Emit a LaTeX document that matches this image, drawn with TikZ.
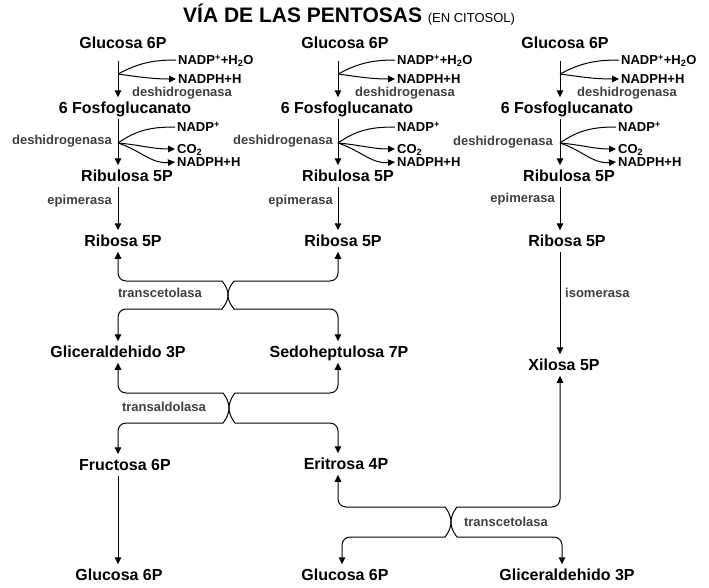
\documentclass[tikz,border=0pt]{standalone}
\usepackage{fontspec}
\setmainfont{Liberation Sans}
\usepackage{xcolor}
\definecolor{enzgray}{HTML}{404040}
\usetikzlibrary{arrows.meta,calc}

\begin{document}
\begin{tikzpicture}[
  x=1pt,y=1pt,
  met/.style={inner sep=0pt,outer ysep=5pt,text height=11.5pt,text depth=0pt,
              font=\fontsize{16}{18}\selectfont\bfseries},
  cof/.style={anchor=west,inner xsep=2pt,inner ysep=0pt,text height=9.3pt,text depth=0pt,
              font=\fontsize{13}{15}\selectfont\bfseries},
  enz/.style={inner sep=0pt,text height=9.3pt,text depth=0pt,text=enzgray,
              font=\fontsize{13}{15}\selectfont\bfseries},
  arr/.style={-{Triangle[length=7pt,width=6.5pt]},line width=1pt},
  lin/.style={line width=1pt},
  cross/.style={arr,rounded corners=8pt}
]
\useasboundingbox (0,0) rectangle (709,-587);

\node[anchor=base west,inner sep=0pt] (title) at (183,-22)
  {\fontsize{21}{24}\selectfont\bfseries VÍA DE LAS PENTOSAS \fontsize{13}{15}\selectfont\mdseries(EN CITOSOL)};

% column axes
\coordinate (c1) at (118,0);
\coordinate (c2) at (338,0);
\coordinate (c3) at (560,0);

% column 1
\node[met] (glu1) at (123,-43)  {Glucosa 6P};
\node[met] (fos1) at (125,-108) {6 Fosfoglucanato};
\node[met] (rul1) at (127,-176) {Ribulosa 5P};
\node[met] (rib1) at (123,-241) {Ribosa 5P};
\node[met] (gli1) at (118,-352) {Gliceraldehido 3P};
\node[met] (fru1) at (125,-465) {Fructosa 6P};
\node[met] (glu4) at (119,-575) {Glucosa 6P};

% column 2
\node[met] (glu2) at (345,-43)  {Glucosa 6P};
\node[met] (fos2) at (347,-108) {6 Fosfoglucanato};
\node[met] (rul2) at (348,-176) {Ribulosa 5P};
\node[met] (rib2) at (343,-241) {Ribosa 5P};
\node[met] (sed2) at (339,-352) {Sedoheptulosa 7P};
\node[met] (eri2) at (346,-464) {Eritrosa 4P};
\node[met] (glu5) at (345,-575) {Glucosa 6P};

% column 3
\node[met] (glu3) at (565,-43)  {Glucosa 6P};
\node[met] (fos3) at (567,-108) {6 Fosfoglucanato};
\node[met] (rul3) at (569,-176) {Ribulosa 5P};
\node[met] (rib3) at (567,-241) {Ribosa 5P};
\node[met] (xil3) at (564,-365) {Xilosa 5P};
\node[met] (gli3) at (567,-575) {Gliceraldehido 3P};

% cofactors
\node[cof] (nh1)  at (176,-60)  {NADP\textsuperscript{+}+H\textsubscript{2}O};
\node[cof] (nph1) at (176,-79)  {NADPH+H};
\node[cof] (np1)  at (175,-127) {NADP\textsuperscript{+}};
\node[cof] (co1)  at (175,-149) {CO\textsubscript{2}};
\node[cof] (nq1)  at (175,-162) {NADPH+H};

\node[cof] (nh2)  at (395,-60)  {NADP\textsuperscript{+}+H\textsubscript{2}O};
\node[cof] (nph2) at (395,-79)  {NADPH+H};
\node[cof] (np2)  at (395,-127) {NADP\textsuperscript{+}};
\node[cof] (co2)  at (395,-149) {CO\textsubscript{2}};
\node[cof] (nq2)  at (395,-162) {NADPH+H};

\node[cof] (nh3)  at (619,-60)  {NADP\textsuperscript{+}+H\textsubscript{2}O};
\node[cof] (nph3) at (619,-79)  {NADPH+H};
\node[cof] (np3)  at (616,-127) {NADP\textsuperscript{+}};
\node[cof] (co3)  at (616,-149) {CO\textsubscript{2}};
\node[cof] (nq3)  at (616,-162) {NADPH+H};

% enzymes
\node[enz,anchor=west] (dh1) at (132,-92) {deshidrogenasa};
\node[enz,anchor=west] (dh2) at (355,-92) {deshidrogenasa};
\node[enz,anchor=west] (dh3) at (577,-92) {deshidrogenasa};
\node[enz,anchor=east] (dg1) at (112,-140) {deshidrogenasa};
\node[enz,anchor=east] (dg2) at (333,-140) {deshidrogenasa};
\node[enz,anchor=east] (dg3) at (553,-141) {deshidrogenasa};
\node[enz,anchor=east] (ep1) at (112,-200) {epimerasa};
\node[enz,anchor=east] (ep2) at (333,-200) {epimerasa};
\node[enz,anchor=east] (ep3) at (555,-198) {epimerasa};
\node[enz] (tk1) at (160,-293) {transcetolasa};
\node[enz] (ta1) at (164,-407) {transaldolasa};
\node[enz,anchor=west] (iso3) at (565,-293) {isomerasa};
\node[enz] (tk2) at (506,-522) {transcetolasa};

% branch points
\coordinate (br1) at (118,-74);
\coordinate (br2) at (338,-74);
\coordinate (br3) at (560,-74);
\coordinate (bq1) at (118,-143);
\coordinate (bq2) at (338,-143);
\coordinate (bq3) at (560,-143);

% main chain
\draw[arr,shorten <=7pt] (glu1.south -| c1) -- (fos1.north -| c1);
\draw[arr] (fos1.south -| c1) -- (rul1.north -| c1);
\draw[arr] (rul1.south -| c1) -- (rib1.north -| c1);
\draw[arr,shorten <=7pt] (glu2.south -| c2) -- (fos2.north -| c2);
\draw[arr] (fos2.south -| c2) -- (rul2.north -| c2);
\draw[arr] (rul2.south -| c2) -- (rib2.north -| c2);
\draw[arr,shorten <=7pt] (glu3.south -| c3) -- (fos3.north -| c3);
\draw[arr] (fos3.south -| c3) -- (rul3.north -| c3);
\draw[arr] (rul3.south -| c3) -- (rib3.north -| c3);
\draw[arr] (rib3.south -| c3) -- (xil3.north -| c3);
\draw[arr] (fru1.south -| c1) -- (glu4.north -| c1);

% cofactor branches
\draw[lin] (br1) to[out=28,in=180] (nh1.west);
\draw[arr] (br1) to[out=-8,in=180] (nph1.west);
\draw[lin] (bq1) to[out=35,in=180] (np1.west);
\draw[arr] (bq1) to[out=-5,in=180] (co1.west);
\draw[arr] (bq1) to[out=-18,in=185] (nq1.west);

\draw[lin] (br2) to[out=28,in=180] (nh2.west);
\draw[arr] (br2) to[out=-8,in=180] (nph2.west);
\draw[lin] (bq2) to[out=35,in=180] (np2.west);
\draw[arr] (bq2) to[out=-5,in=180] (co2.west);
\draw[arr] (bq2) to[out=-18,in=185] (nq2.west);

\draw[lin] (br3) to[out=28,in=180] (nh3.west);
\draw[arr] (br3) to[out=-8,in=180] (nph3.west);
\draw[lin] (bq3) to[out=35,in=180] (np3.west);
\draw[arr] (bq3) to[out=-5,in=180] (co3.west);
\draw[arr] (bq3) to[out=-18,in=185] (nq3.west);

% crossings
\coordinate (x1) at (228,-295);
\coordinate (x2) at (229,-408);
\coordinate (x3) at (451,-522);

\draw[cross] (x1) to[out=90,in=0]    ++(-14,14)  -| (rib1.south -| c1);
\draw[cross] (x1) to[out=90,in=180]  ++(14,14)   -| (rib2.south -| c2);
\draw[cross] (x1) to[out=-90,in=0]   ++(-14,-14) -| (gli1.north -| c1);
\draw[cross] (x1) to[out=-90,in=180] ++(14,-14)  -| (sed2.north -| c2);

\draw[cross] (x2) to[out=90,in=0]    ++(-14,15)  -| (gli1.south -| c1);
\draw[cross] (x2) to[out=90,in=180]  ++(14,15)   -| (sed2.south -| c2);
\draw[cross] (x2) to[out=-90,in=0]   ++(-14,-15) -| (fru1.north -| c1);
\draw[cross] (x2) to[out=-90,in=180] ++(14,-15)  -| (eri2.north -| c2);

\draw[cross] (x3) to[out=90,in=0]    ++(-14,15)  -| (eri2.south -| c2);
\draw[cross] (x3) to[out=90,in=180]  ++(14,15)   -| (xil3.south -| c3);
\draw[cross] (x3) to[out=-90,in=0]   ++(-14,-15) -| ($(glu5.north -| c2)+(4,0)$);
\draw[cross] (x3) to[out=-90,in=180] ++(14,-15)  -| ($(gli3.north -| c3)+(2,0)$);

\end{tikzpicture}
\end{document}
